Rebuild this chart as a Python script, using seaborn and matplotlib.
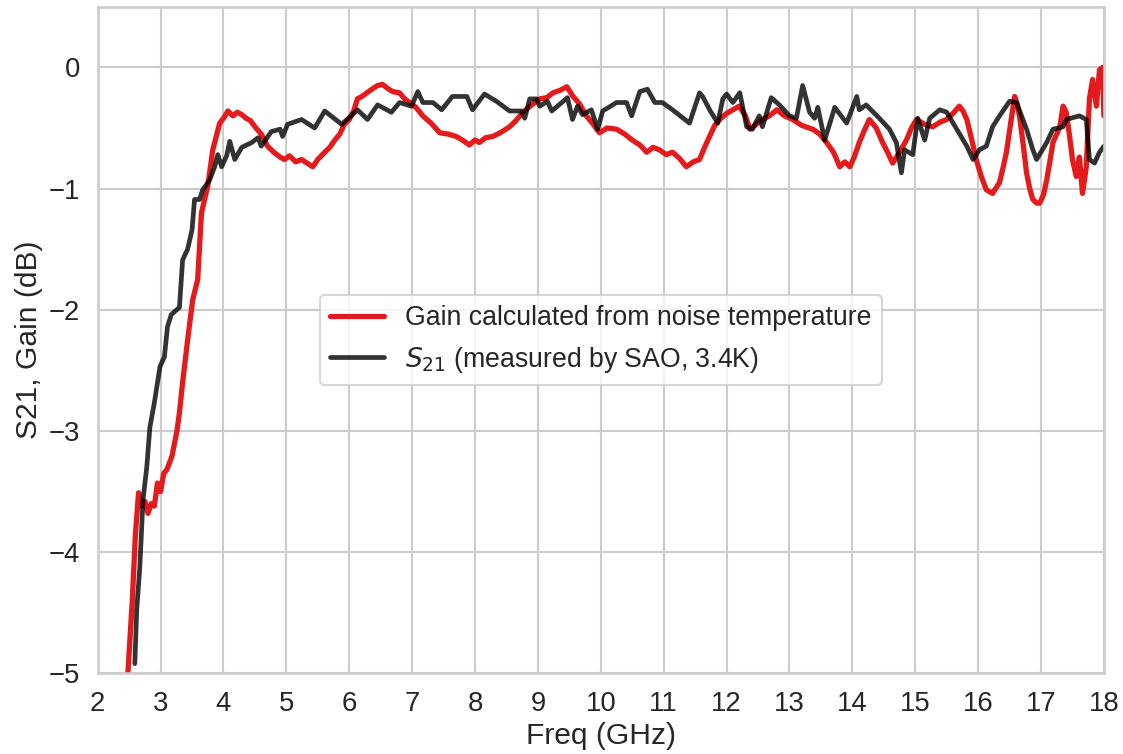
import numpy as np
import pandas as pd
import matplotlib
matplotlib.use("Agg")
import matplotlib.pyplot as plt
import seaborn as sns

# Gain calculated from noise temperature (red)
gain_freq = [2.48, 2.55, 2.6, 2.65, 2.7, 2.75, 2.8, 2.85, 2.9, 2.95, 3.0, 3.05, 3.1, 3.18, 3.26,
             3.3, 3.35, 3.43, 3.51, 3.59, 3.65, 3.75, 3.83, 3.94, 4.0, 4.07, 4.15, 4.22, 4.29, 4.36,
             4.43, 4.5, 4.6, 4.7, 4.8, 4.9, 4.97, 5.05, 5.15, 5.24, 5.33, 5.42, 5.5, 5.61, 5.69, 5.77,
             5.85, 5.92, 6.0, 6.07, 6.13, 6.2, 6.28, 6.36, 6.45, 6.53, 6.6, 6.69, 6.8, 6.88, 6.96,
             7.06, 7.17, 7.3, 7.44, 7.57, 7.7, 7.8, 7.91, 8.0, 8.07, 8.17, 8.28, 8.4, 8.55, 8.65,
             8.76, 8.9, 9.03, 9.14, 9.24, 9.35, 9.46, 9.56, 9.66, 9.77, 9.88, 9.98, 10.1, 10.25,
             10.38, 10.5, 10.62, 10.73, 10.83, 10.93, 11.04, 11.14, 11.25, 11.36, 11.47, 11.57,
             11.65, 11.73, 11.81, 11.89, 12.0, 12.1, 12.2, 12.3, 12.37, 12.47, 12.57, 12.68, 12.8,
             12.92, 13.05, 13.2, 13.37, 13.48, 13.59, 13.7, 13.8, 13.88, 13.96, 14.03, 14.11, 14.19,
             14.27, 14.38, 14.48, 14.56, 14.64, 14.75, 14.86, 14.94, 15.02, 15.15, 15.28, 15.4,
             15.5, 15.6, 15.7, 15.76, 15.82, 15.9, 15.97, 16.05, 16.13, 16.23, 16.34, 16.4, 16.45,
             16.52, 16.58, 16.62, 16.66, 16.72, 16.77, 16.82, 16.87, 16.93, 16.98, 17.04, 17.09,
             17.14, 17.19, 17.25, 17.3, 17.35, 17.4, 17.45, 17.5, 17.56, 17.61, 17.66, 17.72, 17.77,
             17.82, 17.88, 17.93, 17.98, 18.0]
gain_db = [-5.0, -4.4, -3.85, -3.51, -3.62, -3.58, -3.68, -3.6, -3.62, -3.43, -3.5, -3.35, -3.32, -3.21, -3.0,
           -2.85, -2.6, -2.25, -1.92, -1.75, -1.2, -0.98, -0.68, -0.46, -0.42, -0.36, -0.4, -0.37, -0.39, -0.42,
           -0.44, -0.49, -0.55, -0.65, -0.7, -0.74, -0.76, -0.73, -0.78, -0.76, -0.79, -0.82, -0.76, -0.7, -0.66, -0.6,
           -0.55, -0.47, -0.43, -0.36, -0.26, -0.24, -0.21, -0.18, -0.15, -0.14, -0.17, -0.2, -0.21, -0.26, -0.29,
           -0.33, -0.4, -0.46, -0.54, -0.55, -0.57, -0.6, -0.64, -0.6, -0.62, -0.58, -0.57, -0.54, -0.49, -0.44,
           -0.37, -0.31, -0.26, -0.25, -0.21, -0.19, -0.16, -0.24, -0.3, -0.4, -0.47, -0.54, -0.5, -0.51,
           -0.55, -0.6, -0.64, -0.7, -0.66, -0.68, -0.72, -0.7, -0.75, -0.82, -0.78, -0.76,
           -0.66, -0.57, -0.48, -0.43, -0.38, -0.35, -0.32, -0.4, -0.51, -0.47, -0.43, -0.4, -0.35,
           -0.4, -0.43, -0.48, -0.51, -0.55, -0.62, -0.7, -0.82, -0.78, -0.82, -0.74, -0.62, -0.52,
           -0.43, -0.5, -0.62, -0.7, -0.79, -0.7, -0.6, -0.5, -0.43, -0.47, -0.49, -0.45,
           -0.43, -0.38, -0.32, -0.36, -0.43, -0.6, -0.76, -0.9, -1.01, -1.04, -0.95, -0.82, -0.7,
           -0.45, -0.24, -0.3, -0.41, -0.65, -0.87, -1.0, -1.09, -1.12, -1.12, -1.05, -0.93,
           -0.78, -0.62, -0.55, -0.49, -0.32, -0.37, -0.55, -0.76, -0.9, -0.74, -1.04, -0.82, -0.26,
           -0.1, -0.32, -0.02, 0.0, -0.4]

# S21 measured by SAO, 3.4K (dark)
s21_freq = [2.59, 2.62, 2.67, 2.72, 2.78, 2.83, 2.9, 2.99, 3.06, 3.11, 3.17, 3.3, 3.35, 3.43, 3.5, 3.54,
            3.62, 3.67, 3.78, 3.86, 3.91, 3.97, 4.05, 4.1, 4.18, 4.29, 4.45, 4.55, 4.6, 4.76, 4.9, 4.94,
            5.02, 5.24, 5.45, 5.61, 5.88, 6.13, 6.29, 6.45, 6.67, 6.8, 6.99, 7.09, 7.17, 7.33, 7.47,
            7.64, 7.87, 7.96, 8.15, 8.34, 8.55, 8.74, 8.79, 8.87, 8.98, 9.03, 9.15, 9.22, 9.47, 9.55,
            9.63, 9.71, 9.85, 9.95, 10.03, 10.25, 10.41, 10.49, 10.62, 10.74, 10.86, 10.98, 11.14,
            11.41, 11.57, 11.62, 11.73, 11.86, 11.94, 12.0, 12.1, 12.21, 12.32, 12.41, 12.52, 12.57,
            12.71, 12.84, 13.0, 13.11, 13.21, 13.32, 13.4, 13.45, 13.56, 13.72, 13.91, 14.07, 14.11,
            14.22, 14.43, 14.59, 14.7, 14.78, 14.83, 14.96, 15.04, 15.15, 15.23, 15.39, 15.5, 15.66,
            15.82, 15.92, 16.02, 16.13, 16.23, 16.34, 16.5, 16.61, 16.77, 16.87, 16.93, 17.09, 17.19,
            17.35, 17.4, 17.61, 17.72, 17.77, 17.85, 17.93, 18.0]
s21_db = [-4.92, -4.48, -4.12, -3.57, -3.3, -2.97, -2.77, -2.47, -2.39, -2.14, -2.04, -1.98, -1.59, -1.5, -1.34, -1.09,
          -1.09, -1.01, -0.93, -0.82, -0.72, -0.82, -0.73, -0.61, -0.76, -0.66, -0.62, -0.58, -0.65, -0.53, -0.51, -0.57,
          -0.47, -0.43, -0.5, -0.36, -0.47, -0.35, -0.43, -0.31, -0.37, -0.29, -0.32, -0.2, -0.29, -0.29, -0.35,
          -0.24, -0.24, -0.35, -0.22, -0.28, -0.36, -0.36, -0.42, -0.26, -0.26, -0.32, -0.28, -0.36, -0.25, -0.43,
          -0.32, -0.39, -0.35, -0.51, -0.36, -0.29, -0.29, -0.4, -0.2, -0.18, -0.29, -0.29, -0.35,
          -0.46, -0.21, -0.24, -0.35, -0.46, -0.26, -0.22, -0.29, -0.21, -0.49, -0.51, -0.4, -0.49,
          -0.25, -0.31, -0.4, -0.42, -0.15, -0.37, -0.42, -0.33, -0.6, -0.33, -0.46, -0.24, -0.35,
          -0.31, -0.42, -0.51, -0.62, -0.87, -0.68, -0.72, -0.42, -0.6, -0.42, -0.35, -0.37, -0.51,
          -0.65, -0.76, -0.68, -0.65, -0.49, -0.4, -0.28, -0.29, -0.51, -0.68, -0.76, -0.62, -0.51,
          -0.49, -0.43, -0.4, -0.43, -0.76, -0.79, -0.7, -0.65]

x_ticks = list(range(2, 19))
y_ticks = [-5, -4, -3, -2, -1, 0]
label_gain = "Gain calculated from noise temperature"
label_s21 = r"$S_{21}$ (measured by SAO, 3.4K)"

sns.set_theme(style="whitegrid", context="talk", font_scale=1.2)
plt.rcParams["font.family"] = ["Liberation Sans", "DejaVu Sans"]
plt.rcParams["mathtext.fontset"] = "dejavusans"

gain_df = pd.DataFrame({"freq": gain_freq, "db": gain_db})
s21_df = pd.DataFrame({"freq": s21_freq, "db": s21_db})

fig, ax = plt.subplots(figsize=(11.23, 7.54), dpi=100)
sns.lineplot(data=gain_df, x="freq", y="db", ax=ax, color="#e41a1c", lw=3.8,
             label=label_gain, sort=False)
sns.lineplot(data=s21_df, x="freq", y="db", ax=ax, color="black", alpha=0.8, lw=3.4,
             label=label_s21, sort=False)

ax.set_xlim(2, 18)
ax.set_ylim(-5, 0.5)
ax.set_xticks(x_ticks)
ax.set_yticks(y_ticks)
ax.set_xlabel("Freq (GHz)")
ax.set_ylabel("S21, Gain (dB)")
ax.legend(loc="center", fontsize=19.2)

fig.subplots_adjust(left=0.087, right=0.983, top=0.991, bottom=0.107)
fig.savefig("out.png", dpi=100)
